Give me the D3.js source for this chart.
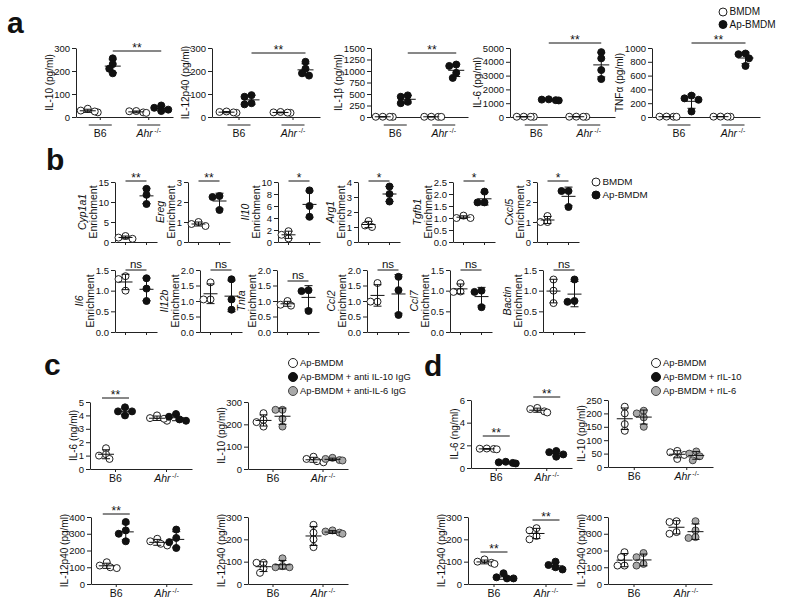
<!DOCTYPE html>
<html><head><meta charset="utf-8">
<script src="https://cdn.jsdelivr.net/npm/d3@7"></script>
<style>
body{margin:0;background:#fff}
text{font-family:'Liberation Sans',Arial,Helvetica,sans-serif;fill:#111}
</style></head><body>
<svg id="chart" width="800" height="603"></svg>
<script>
// ================= DATA =================
const genotypes = ["B6", "Ahr"];
const aSeries = ["BMDM", "Ap-BMDM"];
// panel a: [B6 BMDM, B6 Ap-BMDM, Ahr BMDM, Ahr Ap-BMDM]
const aIL10    = [[36, 28, 20, 24], [255, 230, 210, 190], [20, 25, 18, 26], [32, 40, 50, 26]];
const aIL12p40 = [[22, 18, 20, 24], [95, 88, 60, 55], [20, 18, 22, 19], [240, 210, 190, 180]];
const aIL1b    = [[5, 3, 4, 6], [470, 440, 330, 300], [5, 4, 6, 3], [1140, 1110, 960, 850]];
const aIL6     = [[20, 15, 25, 18], [1260, 1200, 1220, 1280], [15, 20, 25, 18], [4700, 4250, 3400, 2750]];
const aTNFa    = [[5, 4, 6, 3], [310, 270, 250, 80], [5, 4, 6, 5], [920, 910, 850, 740]];
const aIL10Ticks = [0, 100, 200, 300];
const aIL12Ticks = [0, 100, 200, 300];
const aIL1bTicks = [0, 250, 500, 750, 1000, 1250, 1500];
const aIL6Ticks  = [0, 1000, 2000, 3000, 4000, 5000];
const aTNFTicks  = [0, 200, 400, 600, 800, 1000];

// panel b
const bSeries = ["BMDM", "Ap-BMDM"];
const bTopGenes = ["Cyp1a1", "Ereg", "Il10", "Arg1", "Tgfb1", "Cxcl5"];
const bTopBMDM = [[1.5, 0.8, 1.1], [1.0, 0.8, 0.9], [1.8, 0.6, 1.2], [1.4, 1.0, 1.1], [1.1, 1.0, 1.0], [1.3, 1.0, 1.0]];
const bTopAp   = [[13.3, 11.8, 9.5], [2.25, 2.3, 1.6], [8.6, 6.0, 4.2], [3.7, 3.2, 2.7], [2.1, 1.65, 1.65], [2.55, 2.55, 1.75]];
const bTopTicks = [[0, 5, 10, 15], [0, 1, 2, 3], [0, 2, 4, 6, 8, 10], [0, 1, 2, 3, 4], [0, 0.5, 1.0, 1.5, 2.0, 2.5], [0, 1, 2, 3]];
const bTopSig = ["**", "**", "*", "*", "*", "*"];
const bBotGenes = ["Il6", "Il12b", "Tnfa", "Ccl2", "Ccl7", "Bactin"];
const bBotBMDM = [[1.35, 1.28, 1.0], [1.6, 1.05, 1.05], [1.0, 0.88, 0.85], [1.58, 0.98, 0.98], [1.18, 0.98, 0.97], [1.27, 1.0, 0.7]];
const bBotAp   = [[1.3, 1.05, 0.75], [1.7, 1.05, 0.72], [1.35, 1.32, 0.68], [1.78, 1.35, 0.55], [1.0, 0.97, 0.6], [1.27, 0.75, 0.73]];
const bBotTicks = [[0, 0.5, 1.0, 1.5], [0, 0.5, 1.0, 1.5, 2.0], [0, 0.5, 1.0, 1.5, 2.0], [0, 0.5, 1.0, 1.5, 2.0], [0, 0.5, 1.0, 1.5], [0, 0.5, 1.0, 1.5]];
const bBotSig = ["ns", "ns", "ns", "ns", "ns", "ns"];

// panel c: [B6 s1, B6 s2, Ahr s1, Ahr s2]
const cSeries = ["Ap-BMDM", "Ap-BMDM + anti IL-10 IgG", "Ap-BMDM + anti-IL-6 IgG"];
const cIL6      = [[1.55, 1.1, 1.0, 0.75], [4.6, 4.3, 4.3, 4.0], [4.0, 3.8, 3.6, 3.75], [4.1, 3.9, 3.7, 3.6]];
const cIL10     = [[250, 220, 210, 190], [265, 265, 225, 190], [55, 45, 35, 30], [50, 45, 40, 38]];
const cIL12p40a = [[130, 110, 100, 95], [370, 320, 300, 255], [270, 255, 240, 230], [325, 275, 250, 215]];
const cIL12p40b = [[95, 95, 70, 50], [115, 80, 75, 75], [265, 230, 200, 165], [240, 235, 230, 225]];
const cIL6Ticks = [0, 1, 2, 3, 4, 5];
const cIL10Ticks = [0, 100, 200, 300];
const cIL12aTicks = [0, 100, 200, 300, 400];
const cIL12bTicks = [0, 100, 200, 300];

// panel d
const dSeries = ["Ap-BMDM", "Ap-BMDM + rIL-10", "Ap-BMDM + rIL-6"];
const dIL6      = [[1.72, 1.68, 1.7, 1.65], [0.55, 0.5, 0.45, 0.4], [5.3, 5.2, 5.0, 4.9], [1.5, 1.4, 1.2, 1.0]];
const dIL10     = [[225, 200, 160, 135], [210, 200, 185, 150], [60, 55, 45, 30], [58, 50, 40, 25]];
const dIL12p40a = [[110, 100, 95, 90], [48, 30, 25, 25], [250, 240, 215, 200], [100, 85, 75, 65]];
const dIL12p40b = [[190, 160, 110, 110], [185, 160, 120, 110], [375, 370, 310, 300], [375, 320, 280, 275]];
const dIL6Ticks = [0, 2, 4, 6];
const dIL10Ticks = [0, 50, 100, 150, 200, 250];
const dIL12aTicks = [0, 100, 200, 300];
const dIL12bTicks = [0, 100, 200, 300, 400];

// ================= DRAWING =================
const svg = d3.select("#chart");
const STY = {
  open:   {fill: "#fff", stroke: "#222"},
  filled: {fill: "#111", stroke: "#111"},
  grey:   {fill: "#a9a9a9", stroke: "#444"}
};

function swarm(ys, r) {
  const idx = ys.map((v, i) => i).sort((a, b) => ys[a] - ys[b]);
  const placed = [], dx = new Array(ys.length).fill(0);
  const cand = [0, -3.5, 3.5, -7, 7, -10, 10];
  idx.forEach(i => {
    let chosen = cand[cand.length - 1];
    for (const c of cand) {
      if (placed.every(p => Math.hypot(p.x - c, p.y - ys[i]) >= 2 * r - 1.5)) { chosen = c; break; }
    }
    dx[i] = chosen; placed.push({x: chosen, y: ys[i]});
  });
  return dx;
}

function ahr(sel, sup) {
  sel.text(null);
  sel.append("tspan").attr("font-style", "italic").text("Ahr");
  sel.append("tspan").attr("font-size", sup).attr("dy", -4).attr("dx", 1.5).text("-/-");
}

function styleAxis(ax, fs) {
  ax.select(".domain").attr("stroke", "#222").attr("stroke-width", 1);
  ax.selectAll(".tick line").attr("stroke", "#222");
  ax.selectAll("text").attr("font-size", fs).attr("font-family", "'Liberation Sans',Arial,sans-serif").attr("fill", "#222");
}

function plot(o) {
  const g = svg.append("g");
  const r = o.r || 3.5;
  const y = d3.scaleLinear().domain([0, o.ticks[o.ticks.length - 1]]).range([o.yBottom, o.yTop]);
  const x0 = d3.scaleBand().domain(o.cats).range([o.axisX, o.endX]);
  const x1 = d3.scalePoint().domain(o.series).range([-o.spread, o.spread]);
  const cx = (c, s) => x0(c) + x0.bandwidth() / 2 + x1(s);

  // y axis
  const ya = g.append("g").attr("transform", `translate(${o.axisX},0)`)
    .call(d3.axisLeft(y).tickValues(o.ticks).tickFormat(o.fmt || d3.format("d"))
      .tickSize(4).tickSizeOuter(0).tickPadding(2));
  styleAxis(ya, o.tickFont || 9.5);

  // x axis
  const xa = g.append("g").attr("transform", `translate(0,${o.yBottom})`)
    .call(d3.axisBottom(x0).tickSize(3).tickSizeOuter(0).tickPadding(3));
  styleAxis(xa, o.xFont || 10.5);
  if (o.xMode === "c") {
    xa.selectAll(".tick text").each(function(d) { if (d === "Ahr") ahr(d3.select(this), 7); });
  } else {
    xa.selectAll(".tick text").remove();
  }
  if (o.xMode === "a") {
    o.cats.forEach(c => {
      const xa1 = cx(c, o.series[0]) + 1, xa2 = cx(c, o.series[o.series.length - 1]) - 1;
      g.append("line").attr("x1", xa1).attr("x2", xa2).attr("y1", o.yBottom + 8).attr("y2", o.yBottom + 8)
        .attr("stroke", "#222");
      const t = g.append("text").attr("x", x0(c) + x0.bandwidth() / 2).attr("y", o.yBottom + 20)
        .attr("text-anchor", "middle").attr("font-size", 10.5).text(c);
      if (c === "Ahr") ahr(t, 7);
    });
  }

  // y label
  const bb = ya.node().getBBox();
  const bx = o.axisX + bb.x - 1.5;
  const cy = (o.yTop + o.yBottom) / 2;
  o.ylab.forEach((ln, k) => {
    const xx = bx - (o.ylab.length - 1 - k) * 11;
    g.append("text").attr("transform", `translate(${xx},${cy}) rotate(-90)`)
      .attr("text-anchor", "middle").attr("font-size", o.labFont || 10)
      .attr("font-style", ln.italic ? "italic" : "normal").text(ln.t);
  });

  // points + error bars
  o.groups.forEach(gr => {
    const c = cx(gr.cat, gr.ser);
    const ys = gr.vals.map(v => y(v));
    const dx = swarm(ys, r);
    const st = STY[gr.style];
    g.selectAll(null).data(gr.vals).join("circle")
      .attr("cx", (d, i) => c + dx[i]).attr("cy", d => y(d)).attr("r", r)
      .attr("fill", st.fill).attr("stroke", st.stroke).attr("stroke-width", 1);
    const m = d3.mean(gr.vals), sd = d3.deviation(gr.vals);
    const mw = o.meanW || 8, cw = o.capW || 4;
    const eb = g.append("g").attr("stroke", "#111").attr("stroke-width", 1);
    eb.append("line").attr("x1", c - mw).attr("x2", c + mw).attr("y1", y(m)).attr("y2", y(m));
    eb.append("line").attr("x1", c).attr("x2", c).attr("y1", y(m + sd)).attr("y2", y(Math.max(0, m - sd)));
    eb.append("line").attr("x1", c - cw).attr("x2", c + cw).attr("y1", y(m + sd)).attr("y2", y(m + sd));
    if (m - sd > 0) eb.append("line").attr("x1", c - cw).attr("x2", c + cw).attr("y1", y(m - sd)).attr("y2", y(m - sd));
  });

  // significance
  (o.sigs || []).forEach(s => {
    const ext = o.sigExt || 0;
    const xA = cx(s.from[0], s.from[1]) - ext, xB = cx(s.to[0], s.to[1]) + ext;
    g.append("line").attr("x1", xA).attr("x2", xB).attr("y1", s.y).attr("y2", s.y).attr("stroke", "#111");
    const ns = s.text === "ns";
    g.append("text").attr("x", (xA + xB) / 2).attr("y", ns ? s.y - 2 : s.y + 0.5)
      .attr("text-anchor", "middle").attr("font-size", ns ? 11.5 : 12).text(s.text);
  });
}

function legend(x, y0, dy, labels, styles, fs, r) {
  labels.forEach((l, i) => {
    const st = STY[styles[i]];
    svg.append("circle").attr("cx", x).attr("cy", y0 + i * dy).attr("r", r)
      .attr("fill", st.fill).attr("stroke", st.stroke);
    svg.append("text").attr("x", x + r + 2.5).attr("y", y0 + i * dy + 3.4).attr("font-size", fs).text(l);
  });
}

function panelLabel(t, x, y) {
  svg.append("text").attr("x", x).attr("y", y).attr("font-size", 30).attr("font-weight", "bold").text(t);
}

function quad(vals, series, styles) {
  // vals ordered [cat0 s0, cat0 s1, cat1 s0, cat1 s1]
  return vals.map((v, i) => ({cat: genotypes[Math.floor(i / 2)], ser: series[i % 2], vals: v, style: styles[i % 2]}));
}

// ---------- panel a ----------
panelLabel("a", 7, 33);
const aSpecs = [
  {data: aIL10, ticks: aIL10Ticks, lab: "IL-10 (pg/ml)", ax: 76, end: 173, sy: 51},
  {data: aIL12p40, ticks: aIL12Ticks, lab: "IL-12p40 (pg/ml)", ax: 212, end: 320, sy: 53},
  {data: aIL1b, ticks: aIL1bTicks, lab: "IL-1β (pg/ml)", ax: 371, end: 468, sy: 53},
  {data: aIL6, ticks: aIL6Ticks, lab: "IL-6 (pg/ml)", ax: 510, end: 615, sy: 43},
  {data: aTNFa, ticks: aTNFTicks, lab: "TNFα (pg/ml)", ax: 652, end: 760, sy: 43}
];
aSpecs.forEach(s => plot({
  axisX: s.ax, endX: s.end, yTop: 48, yBottom: 117, ticks: s.ticks,
  cats: genotypes, series: aSeries, spread: 12.5, xMode: "a",
  ylab: [{t: s.lab}], groups: quad(s.data, aSeries, ["open", "filled"]),
  sigs: [{from: ["B6", "Ap-BMDM"], to: ["Ahr", "Ap-BMDM"], y: s.sy, text: "**"}]
}));
legend(723, 12, 12.5, aSeries, ["open", "filled"], 10, 4);

// ---------- panel b ----------
panelLabel("b", 46, 170);
const bTopAxes = [115, 188, 278, 358, 453, 537];
const bBotAxes = [115, 200, 277, 367, 450, 543];
const bBotSigY = [270, 270, 281, 270, 270, 270];
const fmtB = ticks => (ticks.some(t => t % 1 !== 0) ? d3.format(".1f") : d3.format("d"));
bTopGenes.forEach((gname, i) => plot({
  axisX: bTopAxes[i], endX: bTopAxes[i] + 42, yTop: 182, yBottom: 242, ticks: bTopTicks[i], fmt: fmtB(bTopTicks[i]),
  cats: bSeries, series: ["x"], spread: 0, xMode: "b", labFont: 10.5, meanW: 7,
  ylab: [{t: gname, italic: true}, {t: "Enrichment"}],
  groups: [{cat: "BMDM", ser: "x", vals: bTopBMDM[i], style: "open"}, {cat: "Ap-BMDM", ser: "x", vals: bTopAp[i], style: "filled"}],
  sigs: [{from: ["BMDM", "x"], to: ["Ap-BMDM", "x"], y: 181, text: bTopSig[i]}]
}));
bBotGenes.forEach((gname, i) => plot({
  axisX: bBotAxes[i], endX: bBotAxes[i] + 42, yTop: 270, yBottom: 332, ticks: bBotTicks[i], fmt: d3.format(".1f"),
  cats: bSeries, series: ["x"], spread: 0, xMode: "b", labFont: 10.5, meanW: 7,
  ylab: [{t: gname, italic: true}, {t: "Enrichment"}],
  groups: [{cat: "BMDM", ser: "x", vals: bBotBMDM[i], style: "open"}, {cat: "Ap-BMDM", ser: "x", vals: bBotAp[i], style: "filled"}],
  sigs: [{from: ["BMDM", "x"], to: ["Ap-BMDM", "x"], y: bBotSigY[i], text: bBotSig[i]}]
}));
legend(596, 182, 13, bSeries, ["open", "filled"], 9.8, 4);

// ---------- panel c ----------
panelLabel("c", 44, 375);
const cOne = [cSeries[0], cSeries[1]], cTwo = [cSeries[0], cSeries[2]];
plot({axisX: 90, endX: 192, yTop: 402, yBottom: 469, ticks: cIL6Ticks, cats: genotypes, series: cOne, spread: 9.5,
  xMode: "c", ylab: [{t: "IL-6 (ng/ml)"}], groups: quad(cIL6, cOne, ["open", "filled"]), sigExt: 4,
  sigs: [{from: ["B6", cOne[0]], to: ["B6", cOne[1]], y: 398, text: "**"}]});
plot({axisX: 248, endX: 348, yTop: 402, yBottom: 469, ticks: cIL10Ticks, cats: genotypes, series: cTwo, spread: 9.5,
  xMode: "c", ylab: [{t: "IL-10 (pg/ml)"}], groups: quad(cIL10, cTwo, ["open", "grey"])});
plot({axisX: 91, endX: 192, yTop: 517, yBottom: 584, ticks: cIL12aTicks, cats: genotypes, series: cOne, spread: 9.5,
  xMode: "c", ylab: [{t: "IL-12p40 (pg/ml)"}], groups: quad(cIL12p40a, cOne, ["open", "filled"]), sigExt: 4,
  sigs: [{from: ["B6", cOne[0]], to: ["B6", cOne[1]], y: 514, text: "**"}]});
plot({axisX: 248, endX: 348, yTop: 517, yBottom: 584, ticks: cIL12bTicks, cats: genotypes, series: cTwo, spread: 9.5,
  xMode: "c", ylab: [{t: "IL-12p40 (pg/ml)"}], groups: quad(cIL12p40b, cTwo, ["open", "grey"])});
legend(293, 363, 14, cSeries, ["open", "filled", "grey"], 9.4, 4.5);

// ---------- panel d ----------
panelLabel("d", 424, 376);
const dOne = [dSeries[0], dSeries[1]], dTwo = [dSeries[0], dSeries[2]];
plot({axisX: 471, endX: 572, yTop: 400, yBottom: 468, ticks: dIL6Ticks, cats: genotypes, series: dOne, spread: 9.5,
  xMode: "c", ylab: [{t: "IL-6 (ng/ml)"}], groups: quad(dIL6, dOne, ["open", "filled"]), sigExt: 4,
  sigs: [{from: ["B6", dOne[0]], to: ["B6", dOne[1]], y: 436, text: "**"},
         {from: ["Ahr", dOne[0]], to: ["Ahr", dOne[1]], y: 397, text: "**"}]});
plot({axisX: 608, endX: 713, yTop: 400, yBottom: 467, ticks: dIL10Ticks, cats: genotypes, series: dTwo, spread: 9.5,
  xMode: "c", ylab: [{t: "IL-10 (pg/ml)"}], groups: quad(dIL10, dTwo, ["open", "grey"])});
plot({axisX: 468, endX: 572, yTop: 517, yBottom: 584, ticks: dIL12aTicks, cats: genotypes, series: dOne, spread: 9.5,
  xMode: "c", ylab: [{t: "IL-12p40 (pg/ml)"}], groups: quad(dIL12p40a, dOne, ["open", "filled"]), sigExt: 4,
  sigs: [{from: ["B6", dOne[0]], to: ["B6", dOne[1]], y: 552, text: "**"},
         {from: ["Ahr", dOne[0]], to: ["Ahr", dOne[1]], y: 520, text: "**"}]});
plot({axisX: 608, endX: 712, yTop: 517, yBottom: 584, ticks: dIL12bTicks, cats: genotypes, series: dTwo, spread: 9.5,
  xMode: "c", ylab: [{t: "IL-12p40 (pg/ml)"}], groups: quad(dIL12p40b, dTwo, ["open", "grey"])});
legend(656, 363, 14, dSeries, ["open", "filled", "grey"], 9.4, 4.5);
</script>
</body></html>
